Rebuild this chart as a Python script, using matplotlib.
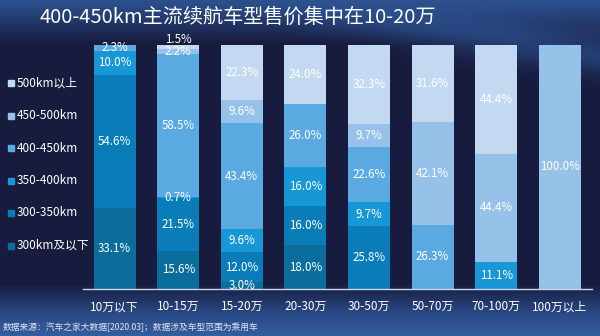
import numpy as np
import matplotlib
matplotlib.use('Agg')
from matplotlib import pyplot as plt
from matplotlib.colors import LinearSegmentedColormap

plt.rcParams['font.family'] = ['Noto Sans CJK SC', 'DejaVu Sans']

# price bands (x axis)
categories = ['10万以下', '10-15万', '15-20万', '20-30万', '30-50万', '50-70万', '70-100万', '100万以上']

# range bands, bottom to top
series_names = ['300km及以下', '300-350km', '350-400km', '400-450km', '450-500km', '500km以上']
below_300 = [33.1, 15.6, 3.0, 18.0, 0, 0, 0, 0]
r300_350 = [54.6, 21.5, 12.0, 16.0, 25.8, 0, 0, 0]
r350_400 = [10.0, 0.7, 9.6, 16.0, 9.7, 0, 11.1, 0]
r400_450 = [2.3, 58.5, 43.4, 26.0, 22.6, 26.3, 0, 0]
r450_500 = [0, 2.2, 9.6, 0, 9.7, 42.1, 44.4, 100.0]
above_500 = [0, 1.5, 22.3, 24.0, 32.3, 31.6, 44.4, 0]

colors = ['#0b6d9c', '#0a7db9', '#1897d6', '#5aa9e1', '#96c2ea', '#c3d9f1']

title = '400-450km主流续航车型售价集中在10-20万'
source = '数据来源：汽车之家大数据[2020.03]；数据涉及车型范围为乘用车'

fig = plt.figure(figsize=(6, 3.36), dpi=100)

# background
bg = fig.add_axes([0, 0, 1, 1])
bg.set_axis_off()
h, w = 336, 600
yy, xx = np.mgrid[0:h, 0:w] / np.array([h, w])[:, None, None]
val = np.zeros((h, w))
val += np.clip(1 - yy / 0.13, 0, 1) * 0.55
val += np.clip((yy - 0.84) / 0.16, 0, 1) * 0.8
swoosh = np.exp(-((yy - (0.05 + 0.25 * (xx - 0.55))) / 0.06) ** 2) * np.clip((xx - 0.45) / 0.4, 0, 1)
val += swoosh * 0.35
val = np.clip(val, 0, 1)
cmap = LinearSegmentedColormap.from_list('bg', ['#171b3d', '#2b4d8a', '#3a6aaa'])
bg.imshow(val, cmap=cmap, aspect='auto', extent=[0, 1, 0, 1], vmin=0, vmax=1)
bg.set_xlim(0, 1)
bg.set_ylim(0, 1)

ax = fig.add_axes([0.138, 0.14, 0.848, 0.726])
ax.set_facecolor('none')
data = [below_300, r300_350, r350_400, r400_450, r450_500, above_500]
x = np.arange(len(categories))
bottom = np.zeros(len(categories))
for vals, c in zip(data, colors):
    vals = np.array(vals, dtype=float)
    ax.bar(x, vals, width=0.66, bottom=bottom, color=c, edgecolor='none')
    for i, v in enumerate(vals):
        if v <= 0:
            continue
        yc = bottom[i] + v / 2
        dy = 0
        # tiny top slice: push label up a bit so it doesn't sit on the one below
        if v < 2 and bottom[i] + v >= 99.9:
            dy = 5
        ax.annotate(f'{v:.1f}%', (x[i], yc), xytext=(0, dy), textcoords='offset points',
                    ha='center', va='center', color='white', fontsize=8.3)
    bottom += vals

ax.set_xlim(-0.5, 7.5)
ax.set_ylim(0, 100)
ax.set_yticks([])
ax.set_xticks(x)
ax.set_xticklabels(categories, color='white', fontsize=8.5)
ax.tick_params(axis='x', length=0, pad=8)
for s in ['top', 'right', 'left']:
    ax.spines[s].set_visible(False)
ax.spines['bottom'].set_color('#c8d4e8')
ax.spines['bottom'].set_linewidth(1)

# legend on the left, top to bottom
for k, (name, c) in enumerate(zip(series_names[::-1], colors[::-1])):
    yk = 1 - (83 + k * 32.5) / 336
    fig.patches.append(plt.Rectangle((8 / 600, yk - 0.009), 6 / 600, 6 / 336,
                                     transform=fig.transFigure, color=c))
    fig.text(17 / 600, yk, name, color='white', fontsize=8.5, va='center', ha='left')

fig.text(40 / 600, 1 - 17 / 336, title, color='white', fontsize=14.5, va='center', ha='left')
fig.text(3 / 600, 1 - 327 / 336, source, color='#dfe6f2', fontsize=6.3, va='center', ha='left')

fig.savefig('out.png', dpi=100)
